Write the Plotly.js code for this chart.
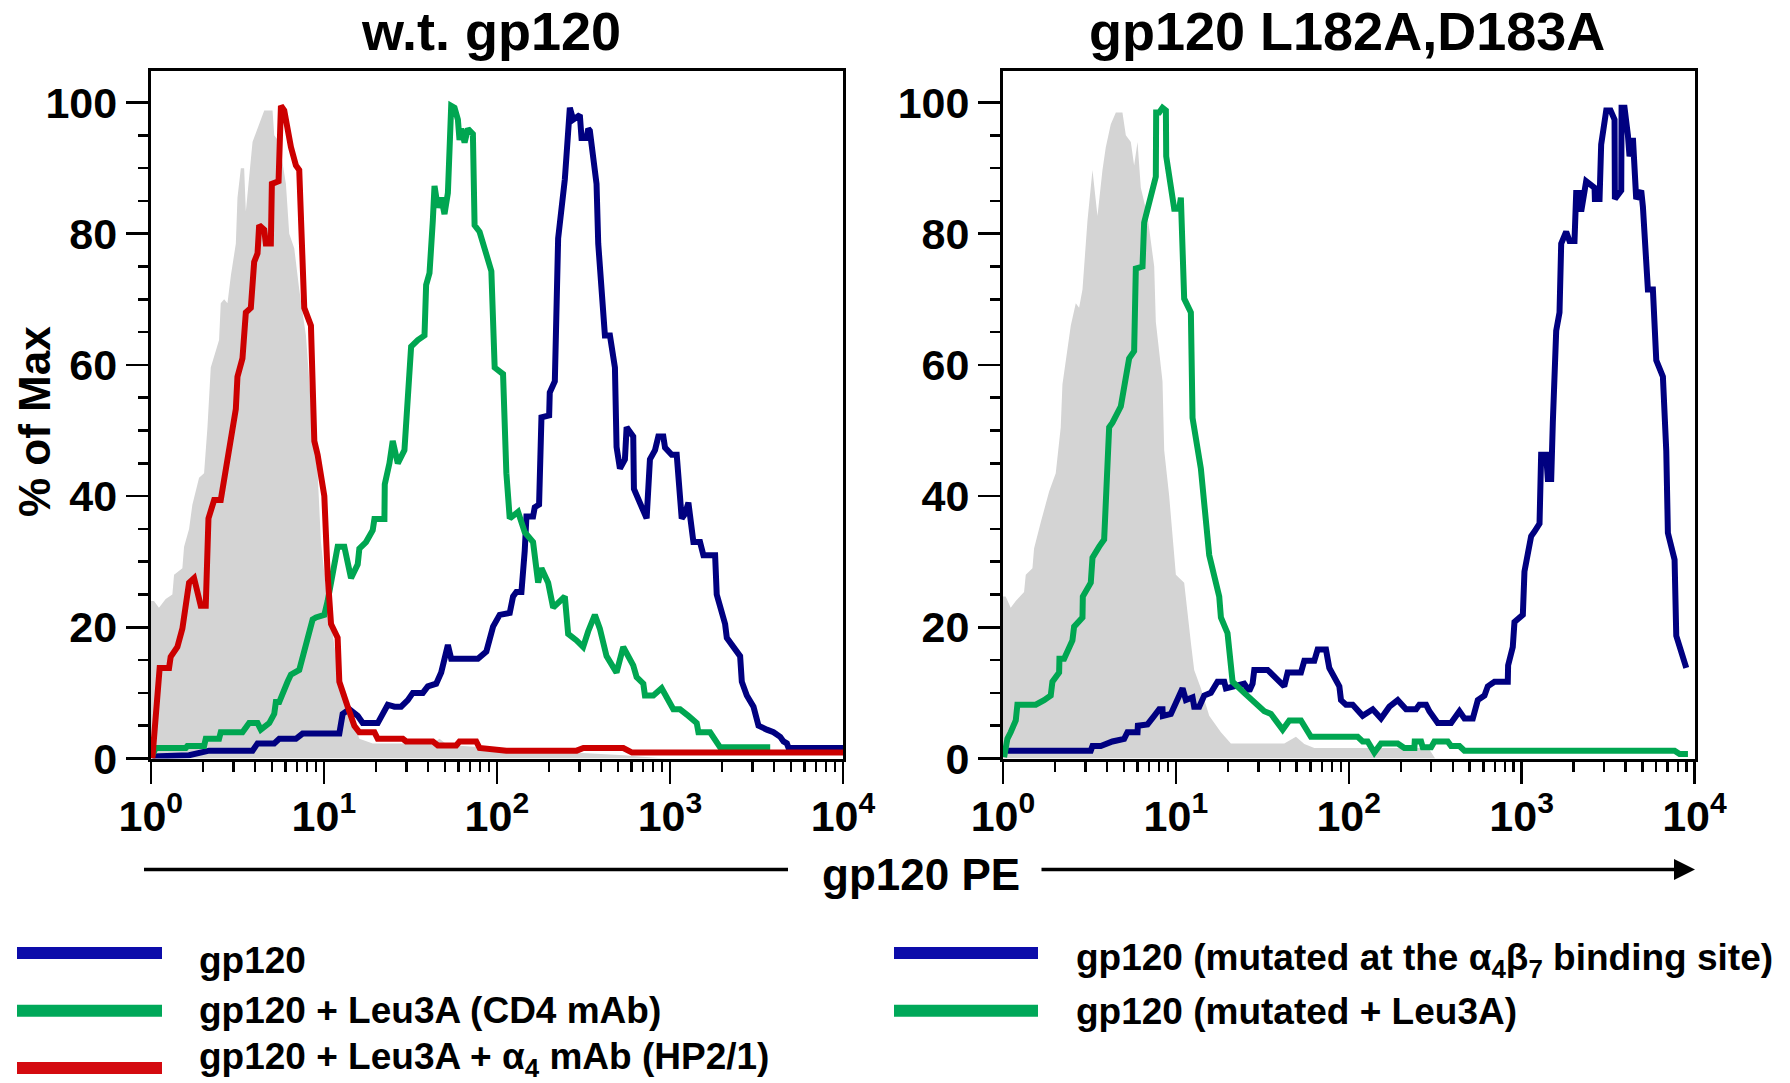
<!DOCTYPE html>
<html>
<head>
<meta charset="utf-8">
<script src="https://cdn.plot.ly/plotly-3.0.1.min.js"></script>
<style>
  html, body { margin: 0; padding: 0; background: #ffffff; }
  #chart { width: 1790px; height: 1083px; }
</style>
</head>
<body>
<div id="chart"></div>
<script>
// ---- Data (x = FCS log-scale channel, 256 channels per decade; y = % of Max) ----
const xTickVals = [1, 10, 100, 1000, 10000];
const xTickText = ['10<sup>0</sup>', '10<sup>1</sup>', '10<sup>2</sup>', '10<sup>3</sup>', '10<sup>4</sup>'];
const yTickVals = [0, 20, 40, 60, 80, 100];
const panelTitles = ['w.t. gp120', 'gp120 L182A,D183A'];
const xAxisTitle = 'gp120 PE';
const yAxisTitle = '% of Max';
const legendLeft = ['gp120', 'gp120 + Leu3A (CD4 mAb)', 'gp120 + Leu3A + \u03b1<sub>4</sub> mAb (HP2/1)'];
const legendRight = ['gp120 (mutated at the \u03b1<sub>4</sub>\u03b2<sub>7</sub> binding site)', 'gp120 (mutated + Leu3A)'];

// Left panel: w.t. gp120
const wtGrayCh = [0, 4.7, 12.1, 22, 31.9, 34.4, 46.7, 49.2, 56.6, 61.5, 71.4, 78.8, 83.8, 88.7, 101, 103.5, 108.5, 113.4, 118.4, 125.8, 128.2, 133.2, 138.1, 140.6, 150.5, 160.3, 167.8, 180.1, 182.6, 190, 199.9, 204.8, 212.2, 219.6, 229.5, 239.4, 246.8, 251.7, 259.1, 269, 278.9, 288.8, 298.7, 308.5, 328.3, 417, 427.1, 437, 451.8, 520, 620, 700, 760];
const wtGrayPct = [24, 24, 23, 24.3, 25, 28, 29, 32.3, 35, 38.7, 42.8, 43.5, 50.5, 59.6, 63.8, 69.4, 70, 69.4, 73.6, 78.5, 85.5, 90, 90, 83.4, 94, 96.7, 98.8, 98.8, 95, 94, 87.6, 80, 77.8, 71.5, 64.5, 50.5, 43.5, 33, 26, 19, 12, 10, 5.8, 3, 2.3, 2.3, 3, 2.2, 2, 1.5, 1.0, 0.5, 0];

const wtBlueCh = [2.3, 56.6, 86.2, 150.5, 157.9, 182.6, 190, 214.7, 224.6, 278.9, 283.8, 293.7, 306.1, 313.5, 335.7, 343.1, 350.5, 360.4, 370.3, 380.2, 387.6, 402.4, 409.8, 422.2, 429.6, 439.5, 444.4, 483.9, 496.4, 506.3, 516.1, 531, 535.9, 540.8, 548.3, 553.2, 555.7, 565.5, 568, 574.4, 577.9, 589.3, 590.2, 597.7, 602.6, 612.5, 619.9, 624.8, 634.7, 637.2, 644.6, 647.1, 649.5, 659.4, 661.9, 671.8, 679.2, 686.6, 689, 694, 701.4, 703.9, 713.7, 714.7, 733.5, 738.4, 745.9, 750.8, 758.2, 760.7, 770.6, 778, 785.4, 790.3, 795.3, 802.7, 812.5, 817.5, 834.8, 837.2, 849.6, 852.1, 871.8, 874.3, 881.7, 891.6, 899, 911.3, 921.2, 931.1, 936, 941, 943.5, 1024];
const wtBluePct = [0.3, 0.5, 1.2, 1.2, 2.3, 2.3, 3, 3, 3.8, 3.8, 6.8, 7.5, 6.5, 5.4, 5.4, 6.8, 8.2, 7.9, 7.9, 8.9, 10, 10, 11, 11.4, 13.1, 17.3, 15.2, 15.2, 16.3, 20.1, 21.9, 22.2, 24.7, 25.4, 25.4, 31.7, 36.9, 36.9, 38.3, 38.7, 52, 52.3, 55.8, 57.5, 79.3, 88.3, 99.2, 97.4, 98.1, 94.6, 94.6, 96, 95.7, 87.6, 78.5, 64.5, 64.5, 59.6, 47.5, 44.2, 45.6, 50.5, 49.1, 41.1, 36.6, 45.6, 47, 49.1, 49.1, 47.4, 46.3, 46.3, 36.6, 37.3, 39, 33, 33, 31, 31, 25, 20.5, 18.4, 15.6, 11.7, 9.6, 7.9, 5, 4.4, 4, 3.3, 2.6, 2.3, 1.6, 1.6];

const wtGreenCh = [2.3, 7.2, 51.7, 54.1, 78.8, 81.3, 101, 103.5, 135.6, 145.5, 157.9, 162.8, 175.2, 182.6, 185, 190, 202.3, 207.3, 219.6, 239.4, 244.3, 256.7, 261.6, 271.5, 276.4, 286.3, 296.2, 306.1, 308.5, 318.4, 328.3, 330.8, 345.6, 346.1, 353, 357.9, 365.4, 375.2, 377.7, 385.1, 395, 404.9, 407.3, 412.3, 417.2, 419.7, 424.6, 429.6, 434.5, 439.5, 444.4, 449.3, 454.3, 456.7, 459.2, 464.2, 469.1, 476.5, 479, 486.4, 503.8, 508.7, 521.1, 526, 531, 543.3, 553.2, 565.5, 573, 577.9, 587.8, 595.2, 612.5, 617.4, 629.8, 639.6, 647.1, 656.9, 664.3, 674.2, 689, 698.9, 713.7, 718.7, 728.6, 731, 743.4, 755.7, 773, 782.9, 795.3, 807.6, 810.1, 827.4, 842.2, 916.3];
const wtGreenPct = [0.5, 1.6, 1.6, 1.9, 1.9, 3, 3, 4, 4, 5.4, 5.4, 4.4, 5.4, 6.8, 8.6, 8.6, 11.7, 12.8, 13.5, 21.2, 21.5, 21.9, 24, 29.6, 32.3, 32.3, 27.5, 29.6, 32, 33, 34.8, 36.5, 36.5, 41.8, 45, 48.4, 45, 47, 52, 62.8, 63.8, 64.5, 72.2, 74, 82, 87.3, 84, 85.5, 83, 86.2, 99.5, 99.2, 97.4, 94.3, 96, 93.9, 96, 95.2, 81.3, 80.3, 74.3, 59.6, 58.6, 43.5, 36.6, 37.6, 34.5, 33, 26.8, 29, 26.8, 23, 24.7, 19, 18, 17, 19.4, 21.9, 19.8, 15.6, 13.1, 17, 14.2, 12.4, 11.4, 9.6, 9.6, 10.7, 7.5, 7.5, 6.5, 5.4, 4, 4, 1.7, 1.7];

const wtRedCh = [2.3, 6.2, 13.1, 27, 29.4, 39.3, 46.7, 56.6, 64, 73.9, 81.3, 85.3, 93.7, 103.5, 108.5, 113.4, 125.8, 128.2, 135.6, 140.6, 148, 152.9, 157.9, 160.3, 167.8, 170.2, 177.6, 179.1, 189, 192.5, 197.4, 207.3, 214.7, 219.6, 222.1, 227, 236.9, 241.9, 246.8, 256.7, 261.6, 266.6, 276.4, 278.9, 291.3, 301.1, 308.5, 330.8, 335.7, 372.8, 377.7, 417.2, 424.6, 451.8, 456.7, 481.4, 486.4, 526, 630, 640, 699, 712, 1024];
const wtRedPct = [0, 5.8, 13.8, 13.8, 15.5, 17, 19.8, 26.8, 27.5, 23.3, 23.3, 36.6, 39.4, 39.4, 42.8, 46.3, 53.3, 58.2, 61, 68, 68.7, 75.7, 77, 81.3, 80.6, 78.5, 78.5, 87.6, 88, 99.5, 98.8, 93.2, 90.4, 89.7, 82.7, 68.7, 66, 48.4, 46.3, 40, 28, 20.5, 18.4, 11.7, 7.9, 5, 4, 4, 3, 3, 2.6, 2.6, 2, 2, 2.6, 2.6, 1.6, 1.2, 1.2, 1.6, 1.6, 0.9, 0.9];

// Right panel: gp120 L182A,D183A
const mutGrayCh = [0, 4.0, 11.4, 18.9, 31.2, 33.7, 43.6, 46, 55.9, 68.3, 78.1, 85.5, 88, 97.9, 100.4, 107.8, 112.7, 117.7, 125.1, 132.5, 139.9, 147.3, 152.2, 159.6, 167.1, 176.9, 181.9, 189.3, 194.2, 199.2, 204.1, 214, 223.9, 226.3, 236.2, 238.7, 246.1, 256, 268.3, 278.2, 283.1, 293, 305.4, 322.7, 337.5, 416.5, 433.8, 446.2, 461, 630, 640];
const mutGrayPct = [24.7, 24.7, 23, 24, 25.4, 28, 29, 32, 36, 40.7, 43.5, 50.5, 57, 63.8, 66, 69.4, 68.7, 71.5, 82, 89.7, 82.7, 89.7, 93.2, 96.7, 98.5, 98.5, 95, 94, 90.4, 94, 87, 82.7, 75, 66.6, 57.5, 47, 40, 28, 26.8, 17.7, 13.5, 10.7, 6.5, 4, 2.3, 2.3, 3.3, 2.2, 1.6, 1.6, 0];

const mutBlueCh = [6.5, 130, 132.5, 144.8, 162.1, 179.4, 184.3, 199.2, 199.7, 214, 223.9, 231.3, 236.2, 236.7, 248.6, 256, 265.9, 270.8, 280.7, 283.1, 290.6, 298, 307.8, 317.7, 327.6, 330.1, 342.4, 357.2, 364.7, 369.6, 372.1, 391.8, 416.5, 421.5, 441.2, 446.2, 461, 465.9, 478.3, 483.2, 498.1, 500.5, 507.9, 517.8, 532.6, 547.5, 559.8, 572.2, 584.5, 591.9, 596.9, 611.7, 616.6, 626.5, 631.4, 643.8, 663.5, 675.9, 683.3, 695.7, 703.1, 713, 717.9, 727.8, 747.5, 748, 754.9, 757.4, 769.8, 772.2, 782.1, 787, 794.5, 796.9, 804.3, 806.8, 811.8, 814.2, 819.2, 824.1, 826.6, 834, 838.9, 846.3, 848.8, 853.7, 856.2, 863.6, 876, 876.5, 883.4, 885.8, 893.3, 899.7, 905.6, 906.1, 915.5, 916, 920.4, 925.4, 927.8, 932.8, 937.7, 945.1, 947.6, 955, 962.4, 967.4, 977.2, 982.2, 984.6, 994.5, 997, 1011.8];
const mutBluePct = [1.2, 1.2, 1.9, 1.9, 2.6, 3, 4, 4, 5, 5.2, 6.5, 7.5, 7.5, 6.5, 6.8, 8.6, 10.7, 8.9, 9.3, 7.9, 7.9, 9.6, 10, 11.7, 11.7, 10.7, 11, 11.4, 10.3, 11.4, 13.5, 13.5, 11, 13.1, 13.1, 14.9, 14.9, 16.6, 16.6, 13.8, 11, 8.9, 8.2, 8.2, 6.5, 7.5, 6.1, 7.9, 8.9, 8.2, 7.5, 7.5, 8.2, 8.2, 7.2, 5.4, 5.4, 7.2, 6.1, 6.1, 8.9, 9.6, 11, 11.7, 11.7, 14.2, 17, 20.8, 21.9, 28.5, 33.9, 34.6, 35.8, 46.3, 46.3, 42.6, 42.6, 51.2, 65.2, 68, 78.5, 80.3, 78.9, 78.9, 86.2, 86.2, 83.4, 88, 87, 85.3, 85.3, 93.6, 98.8, 98.8, 97.4, 85.3, 86.6, 99.2, 99.2, 95, 91.8, 94.6, 85.3, 86.6, 84.1, 71.5, 71.5, 60.7, 58.2, 46.9, 34.4, 30.3, 18.7, 13.8];

const mutGreenCh = [1.6, 6.5, 11.4, 18.9, 21.3, 48.5, 60.8, 70.7, 73.2, 83.1, 83.6, 90.5, 102.8, 105.3, 117.7, 118.2, 130, 132.5, 142.4, 149.8, 157.2, 162.1, 174.5, 186.8, 194.2, 196.7, 206.6, 209, 226.3, 226.8, 231.3, 236.2, 241.2, 241.7, 253.5, 260.9, 263.4, 268.3, 278.2, 280.7, 293, 305.4, 320.2, 322.7, 332.5, 340, 357.2, 386.9, 396.8, 414.1, 423.9, 441.2, 456, 525.2, 532.6, 540, 549.9, 559.8, 584.5, 594.4, 609.2, 609.7, 619.1, 621.6, 633.9, 638.8, 658.6, 663.5, 675.9, 683.3, 994.5, 1001.9, 1014.3];
const mutGreenPct = [0.2, 3, 4, 5.8, 8.2, 8.2, 8.9, 9.6, 11.7, 13.1, 15.2, 15.2, 18, 20.1, 21.5, 24.7, 26.8, 30.6, 32.3, 33.4, 50.5, 51.2, 53.7, 61, 62.1, 74.7, 75, 81.7, 88.7, 98.5, 98.5, 99.2, 98.8, 91.8, 83.8, 83.8, 85.5, 70.1, 68, 51.9, 44.2, 31, 24.7, 21.5, 19.1, 11.7, 10, 7.2, 6.8, 4.4, 5.8, 5.8, 3.3, 3.3, 2.6, 2.6, 0.9, 2.3, 2.3, 1.6, 1.6, 2.6, 2.6, 1.7, 1.7, 2.6, 2.6, 1.9, 1.9, 1.2, 1.2, 0.7, 0.7];

// ---- Styling ----
const CH_PER_DECADE = 256;
const toX = ch => ch.map(c => Math.pow(10, c / CH_PER_DECADE));
const FONT = 'Liberation Sans, Arial, Helvetica, sans-serif';
const C_BLUE = '#000080', C_GREEN = '#00a651', C_RED = '#cc0000', C_GRAY = '#d4d4d4';
const L_BLUE = '#0c0caa', L_GREEN = '#00a859', L_RED = '#d40a10';
const LW = 6;

function grayTrace(ch, pct, xa, ya) {
  return {x: toX(ch), y: pct, xaxis: xa, yaxis: ya, type: 'scatter', mode: 'lines',
          fill: 'tozeroy', fillcolor: C_GRAY, line: {width: 0, color: 'rgba(0,0,0,0)'},
          showlegend: false, hoverinfo: 'skip'};
}
function lineTrace(ch, pct, color, xa, ya) {
  return {x: toX(ch), y: pct, xaxis: xa, yaxis: ya, type: 'scatter', mode: 'lines',
          line: {width: LW, color: color, shape: 'linear'}, showlegend: false};
}

const traces = [
  grayTrace(wtGrayCh, wtGrayPct, 'x', 'y'),
  lineTrace(wtBlueCh, wtBluePct, C_BLUE, 'x', 'y'),
  lineTrace(wtGreenCh, wtGreenPct, C_GREEN, 'x', 'y'),
  lineTrace(wtRedCh, wtRedPct, C_RED, 'x', 'y'),
  grayTrace(mutGrayCh, mutGrayPct, 'x2', 'y2'),
  lineTrace(mutBlueCh, mutBluePct, C_BLUE, 'x2', 'y2'),
  lineTrace(mutGreenCh, mutGreenPct, C_GREEN, 'x2', 'y2')
];

const minorX = [];
for (let d = 1; d <= 1000; d *= 10) for (let k = 2; k <= 9; k++) minorX.push(k * d);

function xAxis(domain, anchor) {
  return {domain: domain, anchor: anchor, type: 'log', range: [0, 4],
    showline: true, linewidth: 3, linecolor: '#000', mirror: true,
    ticks: 'outside', ticklen: 22, tickwidth: 2.5, tickcolor: '#000',
    tickmode: 'array', tickvals: xTickVals, ticktext: xTickText, ticklabelstandoff: -4,
    tickfont: {family: FONT, size: 43, color: '#000', weight: 'bold'},
    minor: {tickmode: 'array', tickvals: minorX, ticks: 'outside', ticklen: 10, tickwidth: 2.5, tickcolor: '#000', showgrid: false},
    showgrid: false, zeroline: false, fixedrange: true};
}
function yAxis(domain, anchor) {
  return {domain: domain, anchor: anchor, range: [0, 104.84],
    showline: true, linewidth: 3, linecolor: '#000', mirror: true,
    ticks: 'outside', ticklen: 22, tickwidth: 2.5, tickcolor: '#000',
    tickmode: 'array', tickvals: yTickVals, ticklabelstandoff: 0,
    tickfont: {family: FONT, size: 43, color: '#000', weight: 'bold'},
    minor: {dtick: 5, ticks: 'outside', ticklen: 10, tickwidth: 2.5, tickcolor: '#000', showgrid: false},
    showgrid: false, zeroline: false, fixedrange: true};
}

const W = 1790, H = 1083;
const px = v => v / W;
const py = v => 1 - v / H;

function txt(text, x, y, size, opts) {
  return Object.assign({text: text, x: px(x), y: py(y), xref: 'paper', yref: 'paper',
    showarrow: false, xanchor: 'center', yanchor: 'middle',
    font: {family: FONT, size: size, color: '#000', weight: 'bold'}}, opts || {});
}
function swatch(x0, x1, y, color) {
  return {type: 'line', xref: 'paper', yref: 'paper', x0: px(x0), x1: px(x1), y0: py(y), y1: py(y),
          line: {color: color, width: 12}};
}

const annotations = [
  txt(panelTitles[0], 491.5, 31, 54),
  txt(panelTitles[1], 1347, 31, 54),
  txt(yAxisTitle, 34, 422, 44, {textangle: -90}),
  txt(xAxisTitle, 920.7, 874, 44),
  txt(legendLeft[0], 197, 960, 37, {xanchor: 'left'}),
  txt(legendLeft[1], 197, 1010, 37, {xanchor: 'left'}),
  txt(legendLeft[2], 197, 1059, 37, {xanchor: 'left'}),
  txt(legendRight[0], 1074, 960, 37, {xanchor: 'left'}),
  txt(legendRight[1], 1074, 1011, 37, {xanchor: 'left'}),
  {text: '', xref: 'paper', yref: 'paper', x: px(1695), y: py(869.5), ax: -655, ay: 0,
   axref: 'pixel', ayref: 'pixel', showarrow: true, arrowhead: 2, arrowsize: 1.2, arrowwidth: 3.5, arrowcolor: '#000'}
];

const shapes = [
  {type: 'line', xref: 'paper', yref: 'paper', x0: px(144), x1: px(788), y0: py(869.5), y1: py(869.5), line: {color: '#000', width: 3.5}},
  swatch(17, 162, 953, L_BLUE),
  swatch(17, 162, 1010.7, L_GREEN),
  swatch(17, 162, 1068, L_RED),
  swatch(894, 1038, 953, L_BLUE),
  swatch(894, 1038, 1010.7, L_GREEN)
];

const yDom = [py(758.5), py(70.8)];
const layout = {
  width: W, height: H, margin: {l: 0, r: 0, t: 0, b: 0},
  paper_bgcolor: '#fff', plot_bgcolor: '#fff', showlegend: false,
  xaxis: xAxis([px(150.8), px(843)], 'y'),
  yaxis: yAxis(yDom, 'x'),
  xaxis2: xAxis([px(1003), px(1694.5)], 'y2'),
  yaxis2: yAxis(yDom, 'x2'),
  annotations: annotations, shapes: shapes
};

Plotly.newPlot('chart', traces, layout, {staticPlot: true, displayModeBar: false});
</script>
</body>
</html>
